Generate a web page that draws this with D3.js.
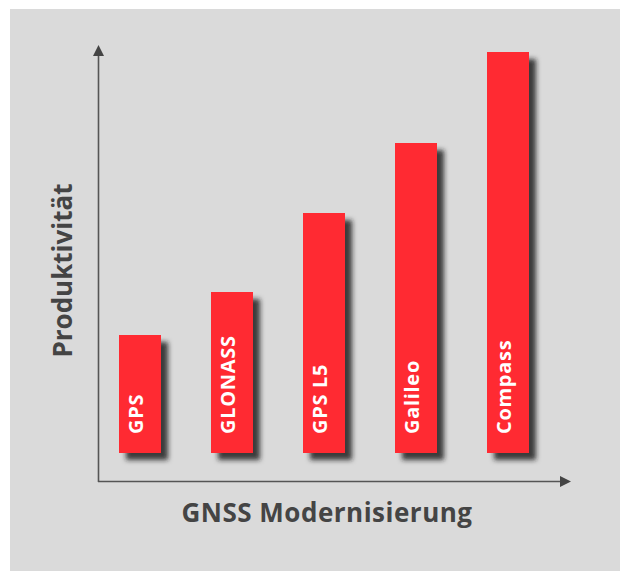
<!DOCTYPE html>
<html>
<head>
<meta charset="utf-8">
<script src="https://cdn.jsdelivr.net/npm/d3@7/dist/d3.min.js"></script>
<style>
html,body{margin:0;padding:0;background:#fff;}
svg{display:block;}
</style>
</head>
<body>
<script>
const categories = ["GPS", "GLONASS", "GPS L5", "Galileo", "Compass"];
const values = [118, 161, 240, 310, 401];
const xTitle = "GNSS Modernisierung";
const yTitle = "Produktivität";

const W = 620, H = 571;
const svg = d3.select("body").append("svg").attr("width", W).attr("height", H);

const defs = svg.append("defs");
const f = defs.append("filter").attr("id", "shadow").attr("x", "-50%").attr("y", "-50%").attr("width", "200%").attr("height", "200%");
f.append("feDropShadow").attr("dx", 7).attr("dy", 7).attr("stdDeviation", 2.5)
  .attr("flood-color", "#222").attr("flood-opacity", 0.85);

defs.append("marker").attr("id", "arrow").attr("viewBox", "0 0 10 10")
  .attr("refX", 0).attr("refY", 5).attr("markerWidth", 13).attr("markerHeight", 11)
  .attr("markerUnits", "userSpaceOnUse").attr("orient", "auto")
  .append("path").attr("d", "M0,0 L10,5 L0,10 Z").attr("fill", "#444");

svg.append("rect").attr("x", 10).attr("y", 9).attr("width", W - 10).attr("height", H - 9).attr("fill", "#dadada");

const baseY = 453;
const x = d3.scaleBand().domain(categories).range([119, 529]).paddingInner(50 / 92).paddingOuter(0);
const y = d3.scaleLinear().domain([0, 420]).range([baseY, baseY - 420]);

// axes
const axisColor = "#555";
svg.append("line").attr("x1", 98.5).attr("y1", 482).attr("x2", 98.5).attr("y2", 56)
  .attr("stroke", axisColor).attr("stroke-width", 1.6).attr("marker-end", "url(#arrow)");
svg.append("line").attr("x1", 98).attr("y1", 481.5).attr("x2", 560).attr("y2", 481.5)
  .attr("stroke", axisColor).attr("stroke-width", 1.6).attr("marker-end", "url(#arrow)");

// bars
const g = svg.append("g");
g.selectAll("rect.bar").data(categories).join("rect")
  .attr("class", "bar")
  .attr("x", d => x(d))
  .attr("width", x.bandwidth())
  .attr("y", (d, i) => y(values[i]))
  .attr("height", (d, i) => y(0) - y(values[i]))
  .attr("fill", "#ff2a30")
  .attr("filter", "url(#shadow)");

g.selectAll("text.lbl").data(categories).join("text")
  .attr("class", "lbl")
  .attr("transform", d => `translate(${x(d) + x.bandwidth() / 2 - 4},${baseY - 19}) rotate(-90)`)
  .attr("dy", "0.36em")
  .attr("text-anchor", "start")
  .attr("fill", "#fff")
  .attr("font-family", "'Open Sans', sans-serif")
  .attr("font-weight", 700)
  .attr("font-size", 20)
  .attr("letter-spacing", 0.7)
  .text(d => d);

svg.append("text")
  .attr("x", 327).attr("y", 522)
  .attr("text-anchor", "middle")
  .attr("fill", "#444")
  .attr("font-family", "'Open Sans', sans-serif")
  .attr("font-weight", 700)
  .attr("font-size", 26)
  .attr("letter-spacing", 0.5)
  .text(xTitle);

svg.append("text")
  .attr("transform", "translate(72,270.5) rotate(-90)")
  .attr("text-anchor", "middle")
  .attr("fill", "#444")
  .attr("font-family", "'Open Sans', sans-serif")
  .attr("font-weight", 700)
  .attr("font-size", 26)
  .text(yTitle);
</script>
</body>
</html>
